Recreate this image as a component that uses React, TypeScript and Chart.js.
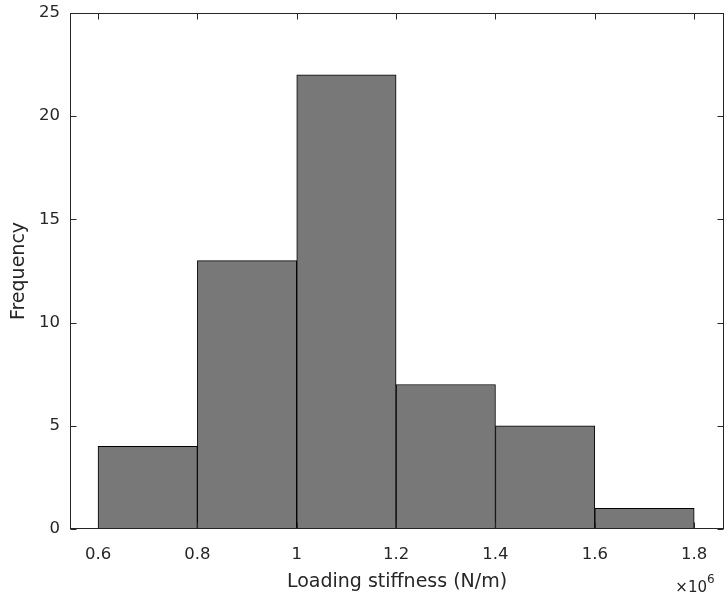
import React, { useEffect, useRef } from "react";
import { Chart, registerables } from "chart.js";

Chart.register(...registerables);

const binEdges = [0.6, 0.8, 1.0, 1.2, 1.4, 1.6, 1.8];
const binCounts = [4, 13, 22, 7, 5, 1];
const xTicks = [0.6, 0.8, 1, 1.2, 1.4, 1.6, 1.8];
const yTicks = [0, 5, 10, 15, 20, 25];
const xLabel = "Loading stiffness (N/m)";
const yLabel = "Frequency";
const exponentBase = "\u00d710";
const exponentPower = "6";

const AXIS_COLOR = "#262626";
const FONT = "'DejaVu Sans', sans-serif";

const frame = {
  id: "matlabFrame",
  afterDraw(chart: any) {
    const { ctx, chartArea: a, scales } = chart;
    const x = scales.x;
    const y = scales.y;
    ctx.save();
    ctx.strokeStyle = AXIS_COLOR;
    ctx.lineWidth = 1;
    const L = Math.round(a.left) + 0.5;
    const R = Math.round(a.right) - 0.5;
    const T = Math.round(a.top) + 0.5;
    const B = Math.round(a.bottom) - 0.5;
    ctx.strokeRect(L, T, R - L, B - T);
    const tl = 6;
    ctx.beginPath();
    xTicks.forEach((v) => {
      const px = Math.round(x.getPixelForValue(v)) + 0.5;
      ctx.moveTo(px, B);
      ctx.lineTo(px, B - tl);
      ctx.moveTo(px, T);
      ctx.lineTo(px, T + tl);
    });
    yTicks.forEach((v) => {
      const py = Math.round(y.getPixelForValue(v)) + 0.5;
      ctx.moveTo(L, py);
      ctx.lineTo(L + tl, py);
      ctx.moveTo(R, py);
      ctx.lineTo(R - tl, py);
    });
    ctx.stroke();
    // exponent label
    ctx.fillStyle = AXIS_COLOR;
    ctx.textBaseline = "alphabetic";
    ctx.font = `15px ${FONT}`;
    ctx.textAlign = "right";
    ctx.fillText(exponentBase, 707, 592);
    ctx.font = `12px ${FONT}`;
    ctx.textAlign = "left";
    ctx.fillText(exponentPower, 707, 583);
    ctx.restore();
  },
};

export default function App() {
  const ref = useRef<HTMLCanvasElement | null>(null);
  useEffect(() => {
    if (!ref.current) return;
    const data = binCounts.map((c, i) => ({
      x: (binEdges[i] + binEdges[i + 1]) / 2,
      y: c,
    }));
    const chart = new Chart(ref.current, {
      type: "bar",
      data: {
        datasets: [
          {
            data,
            backgroundColor: "#787878",
            borderColor: "#000000",
            borderWidth: 1,
            borderSkipped: false,
            barPercentage: 1,
            categoryPercentage: 1,
          },
        ],
      },
      options: {
        animation: false,
        responsive: false,
        devicePixelRatio: 1,
        layout: { padding: { left: 0, top: 13, right: 1, bottom: 0 } },
        plugins: { legend: { display: false }, tooltip: { enabled: false } },
        scales: {
          x: {
            type: "linear",
            min: 0.5436,
            max: 1.86,
            offset: false,
            grid: { display: false, drawTicks: false },
            border: { display: false },
            afterBuildTicks: (s: any) => {
              s.ticks = xTicks.map((v) => ({ value: v }));
            },
            afterFit: (s: any) => {
              s.height = 70;
              s.paddingLeft = 0;
              s.paddingRight = 0;
            },
            ticks: {
              color: AXIS_COLOR,
              font: { family: FONT, size: 16.5 },
              padding: 16,
              maxRotation: 0,
              autoSkip: false,
              callback: (v: any) => String(Number(v)),
            },
            title: {
              display: true,
              text: xLabel,
              color: AXIS_COLOR,
              font: { family: FONT, size: 19 },
              padding: { top: 0, bottom: 6 },
            },
          },
          y: {
            min: 0,
            max: 25,
            grid: { display: false, drawTicks: false },
            border: { display: false },
            afterBuildTicks: (s: any) => {
              s.ticks = yTicks.map((v) => ({ value: v }));
            },
            afterFit: (s: any) => {
              s.width = 70;
              s.paddingTop = 0;
              s.paddingBottom = 0;
            },
            ticks: {
              color: AXIS_COLOR,
              font: { family: FONT, size: 16.5 },
              padding: 10,
              autoSkip: false,
            },
            title: {
              display: true,
              text: yLabel,
              color: AXIS_COLOR,
              font: { family: FONT, size: 19 },
              padding: { top: 8, bottom: 0 },
            },
          },
        },
      },
      plugins: [frame],
    });
    return () => chart.destroy();
  }, []);
  return (
    <div style={{ position: "fixed", left: 0, top: 0, width: 725, height: 599, background: "#fff" }}>
      <canvas ref={ref} width={725} height={599} style={{ width: 725, height: 599, display: "block" }} />
    </div>
  );
}
